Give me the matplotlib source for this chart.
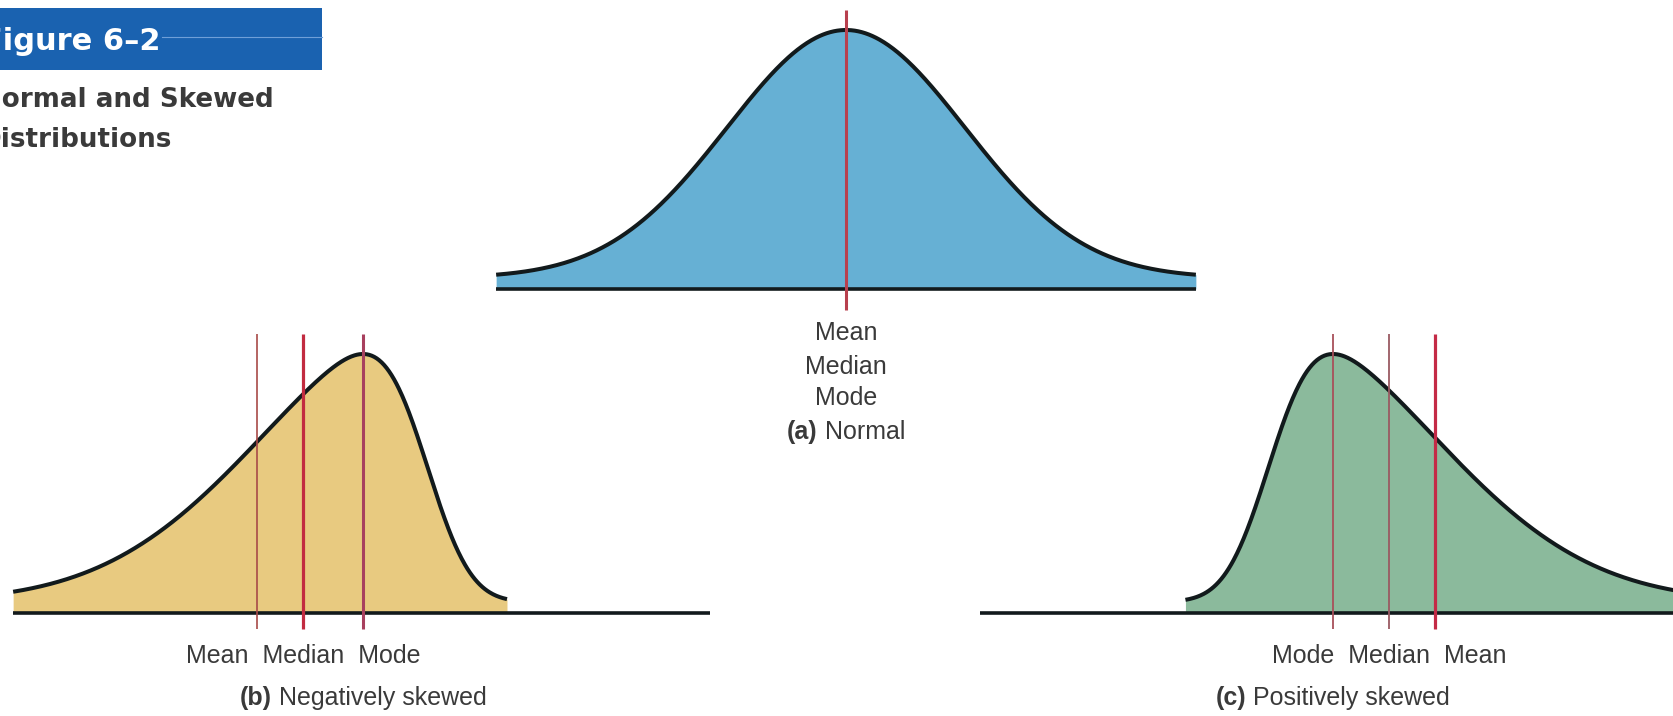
import numpy as np
import matplotlib
matplotlib.use("Agg")
import matplotlib.pyplot as plt
from math import erf
from matplotlib.patches import Rectangle
from matplotlib.lines import Line2D
from matplotlib.offsetbox import TextArea, HPacker, AnnotationBbox

W, H = 1674, 716
PX_X = 119   # pixels per x unit
PX_Y = 248   # pixels per unit of relative height

# distribution shapes (x in standard units, peak sits at x = 0)
NORM_LOC, NORM_SCALE, NORM_ALPHA = 0.0, 1.0, 0.0
NEG_LOC, NEG_SCALE, NEG_ALPHA = 0.53, 1.35, -4.5
POS_LOC, POS_SCALE, POS_ALPHA = -0.53, 1.35, 4.5

# drawn extent of each curve
NORM_SPAN = [-2.94, 2.94]
NEG_SPAN = [-2.94, 1.21]
POS_SPAN = [-1.24, 2.95]

# extent of the axis line under each curve
NORM_AXIS = [-2.94, 2.94]
NEG_AXIS = [-2.94, 2.92]
POS_AXIS = [-2.97, 2.95]

# central tendency markers
NORM_STATS = [0.0]
NEG_STATS = [-0.89, -0.50, 0.0]   # mean, median, mode
POS_STATS = [0.0, 0.47, 0.86]     # mode, median, mean

NORM_LABELS = ["Mean", "Median", "Mode"]
NEG_LABELS = ["Mean", "Median", "Mode"]
POS_LABELS = ["Mode", "Median", "Mean"]
CAPTIONS = [("(a)", "Normal"), ("(b)", "Negatively skewed"), ("(c)", "Positively skewed")]

BASE = -0.044       # axis line sits a little below the tails
INK = "#121a1c"
TEXT = "#3a3a3a"
LABEL_FONT = ["Liberation Sans Narrow", "Liberation Sans", "DejaVu Sans"]


def skew_pdf(x, loc, scale, alpha):
    z = (x - loc) / scale
    phi = np.exp(-z ** 2 / 2) / np.sqrt(2 * np.pi)
    cdf = 0.5 * (1 + np.vectorize(erf)(alpha * z / np.sqrt(2)))
    return 2 * phi * cdf / scale


def add_panel(fig, cx, cy, xlim=(-3.1, 3.1), ylim=(-0.3, 1.15)):
    # cx, cy: pixel position (from top left) of the data origin
    left = cx + xlim[0] * PX_X
    right = cx + xlim[1] * PX_X
    top = cy - ylim[1] * PX_Y
    bottom = cy - ylim[0] * PX_Y
    ax = fig.add_axes([left / W, 1 - bottom / H, (right - left) / W, (bottom - top) / H])
    ax.set_xlim(xlim)
    ax.set_ylim(ylim)
    ax.axis("off")
    return ax


def draw_curve(ax, span, axis_span, loc, scale, alpha, fill):
    x = np.linspace(span[0], span[1], 600)
    y = skew_pdf(x, loc, scale, alpha)
    y = y / y.max()
    ax.fill_between(x, BASE, y, color=fill, lw=0, zorder=1)
    ax.plot(x, y, color=INK, lw=2.9, solid_capstyle="butt", zorder=2)
    ax.plot(axis_span, [BASE, BASE], color=INK, lw=2.6, solid_capstyle="butt", zorder=2)


def draw_stats(ax, stats, colors, widths, bottom):
    ax.vlines(stats, bottom, 1.08, colors=colors, linewidths=widths, zorder=3)


def caption(ax, tag, name, dy):
    box = HPacker(children=[
        TextArea(tag, textprops=dict(fontsize=18, fontweight="bold", color=TEXT, family=LABEL_FONT)),
        TextArea(name, textprops=dict(fontsize=18, color=TEXT, family=LABEL_FONT)),
    ], pad=0, sep=5, align="baseline")
    ab = AnnotationBbox(box, (0, BASE), xycoords="data", xybox=(0, -dy),
                        boxcoords="offset pixels", box_alignment=(0.5, 0.5),
                        frameon=False, pad=0)
    ax.add_artist(ab)


def label(ax, text, x, dy):
    ax.annotate(text, (x, BASE), xytext=(0, -dy), textcoords="offset pixels",
                ha="center", va="center", fontsize=18, color=TEXT, family=LABEL_FONT)


def main():
    fig = plt.figure(figsize=(W / 100, H / 100), dpi=100)

    # header
    fig.add_artist(Rectangle((0, 1 - 70 / H), 322 / W, 62 / H, transform=fig.transFigure,
                             color="#1a62b0", lw=0))
    fig.add_artist(Line2D([162 / W, 322 / W], [1 - 37 / H] * 2, transform=fig.transFigure,
                          color="#6f9fd8", lw=0.8))
    fig.text(160 / W, 1 - 50 / H, "Figure 6\u20132", ha="right", va="baseline",
             color="white", fontsize=22, fontweight="bold", family="DejaVu Sans")
    fig.text(-20 / W, 1 - 107 / H, "Normal and Skewed", ha="left", va="baseline",
             color=TEXT, fontsize=18.8, fontweight="bold", family="DejaVu Sans")
    fig.text(-20 / W, 1 - 147 / H, "Distributions", ha="left", va="baseline",
             color=TEXT, fontsize=18.8, fontweight="bold", family="DejaVu Sans")

    # (a) normal
    ax = add_panel(fig, 846, 278)
    draw_curve(ax, NORM_SPAN, NORM_AXIS, NORM_LOC, NORM_SCALE, NORM_ALPHA, "#66b0d4")
    draw_stats(ax, NORM_STATS, ["#b8404e"], [2.2], -0.13)
    for i, t in enumerate(NORM_LABELS):
        label(ax, t, NORM_STATS[0], [44, 78, 109][i])
    caption(ax, *CAPTIONS[0], 143)

    # (b) negatively skewed
    ax = add_panel(fig, 363, 602)
    draw_curve(ax, NEG_SPAN, NEG_AXIS, NEG_LOC, NEG_SCALE, NEG_ALPHA, "#e8ca80")
    draw_stats(ax, NEG_STATS, ["#a84a48", "#c22b40", "#a8405e"], [1.2, 2.3, 2.2], -0.11)
    label(ax, "  ".join(NEG_LABELS), NEG_STATS[1], 43)
    caption(ax, *CAPTIONS[1], 85)

    # (c) positively skewed
    ax = add_panel(fig, 1333, 602)
    draw_curve(ax, POS_SPAN, POS_AXIS, POS_LOC, POS_SCALE, POS_ALPHA, "#8bba9c")
    draw_stats(ax, POS_STATS, ["#a8505a", "#9a5a62", "#c42a46"], [1.3, 1.3, 2.3], -0.11)
    label(ax, "  ".join(POS_LABELS), POS_STATS[1], 43)
    caption(ax, *CAPTIONS[2], 85)

    fig.savefig("out.png", dpi=100, facecolor="white")


if __name__ == "__main__":
    main()
